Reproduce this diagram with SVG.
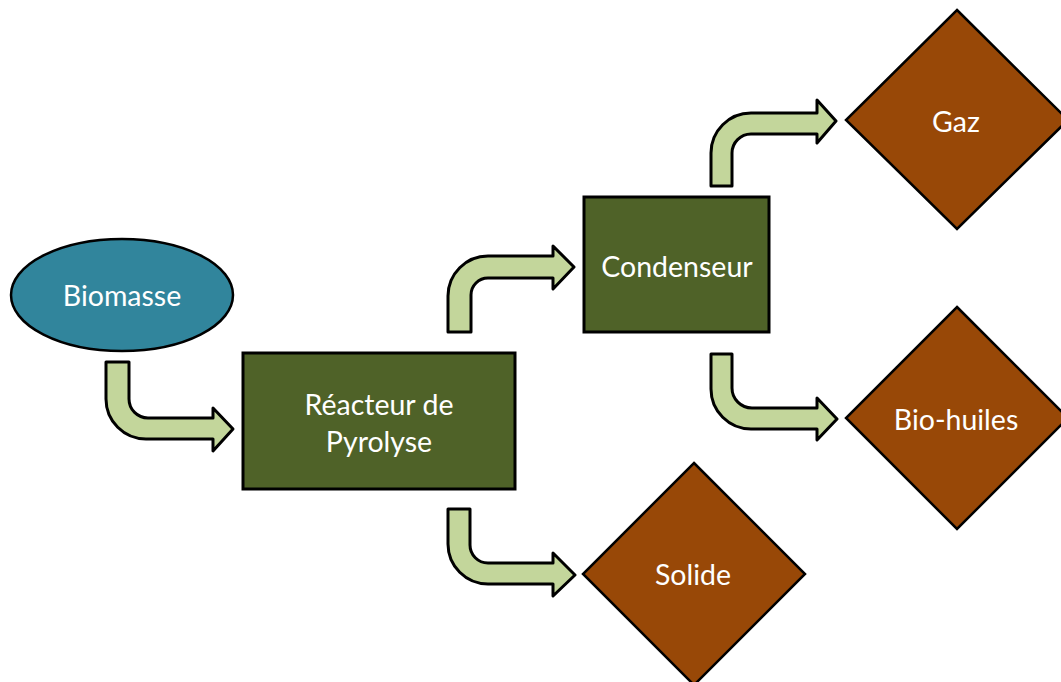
<svg xmlns="http://www.w3.org/2000/svg" width="1061" height="682" viewBox="0 0 1061 682">
<style>
.arrow{fill:#C3D69B;stroke:#000;stroke-width:3;stroke-linejoin:round}
.box{fill:#4F6228;stroke:#000;stroke-width:3}
.dia{fill:#984807;stroke:#000;stroke-width:2.5}
.ell{fill:#31859C;stroke:#000;stroke-width:2.5}
.t{font-family:Lato,"Open Sans",sans-serif;font-size:28.5px;fill:#fff;text-anchor:middle;dominant-baseline:central}
</style>
<rect width="1061" height="682" fill="#fff"/>
<g id="connectors">
<path class="arrow" d="M106,362 L129,362 L129,399 A19,19 0 0 0 148,418 L213,418 L213,408 L233,429 L213,451 L213,439 L146,439 A40,40 0 0 1 106,399 Z"/>
<path class="arrow" d="M448,332 L448,296 A40,40 0 0 1 488,256 L553,256 L553,246 L574,267 L553,289 L553,278 L488,278 A17,17 0 0 0 471,295 L471,332 Z"/>
<path class="arrow" d="M448,509 L470,509 L470,545 A18,18 0 0 0 488,563 L553,563 L553,553 L575,575 L553,596 L553,584 L488,584 A40,40 0 0 1 448,544 Z"/>
<path class="arrow" d="M711,186 L711,153 A40,40 0 0 1 751,113 L817,113 L817,100 L836,121 L817,143 L817,134 L751,134 A19,19 0 0 0 732,153 L732,186 Z"/>
<path class="arrow" d="M711,354 L732,354 L732,388 A20,20 0 0 0 752,408 L817,408 L817,398 L837,419 L817,440 L817,429 L751,429 A40,40 0 0 1 711,389 Z"/>
</g>
<g id="biomasse">
<ellipse class="ell" cx="122" cy="295" rx="111" ry="56"/>
<text class="t" x="122" y="295">Biomasse</text>
</g>
<g id="reacteur">
<rect class="box" x="243" y="353" width="272" height="136"/>
<text class="t" x="379" y="404">Réacteur de</text>
<text class="t" x="379" y="441">Pyrolyse</text>
</g>
<g id="condenseur">
<rect class="box" x="584" y="197" width="185" height="135"/>
<text class="t" x="677" y="266">Condenseur</text>
</g>
<g id="gaz">
<polygon class="dia" points="957,10 1068,120 957,229 846,120"/>
<text class="t" x="956" y="121">Gaz</text>
</g>
<g id="biohuiles">
<polygon class="dia" points="957,307 1068,418 957,529 846,418"/>
<text class="t" x="956" y="419">Bio-huiles</text>
</g>
<g id="solide">
<polygon class="dia" points="694,463 805,574 694,685 583,574"/>
<text class="t" x="693" y="574">Solide</text>
</g>
</svg>
